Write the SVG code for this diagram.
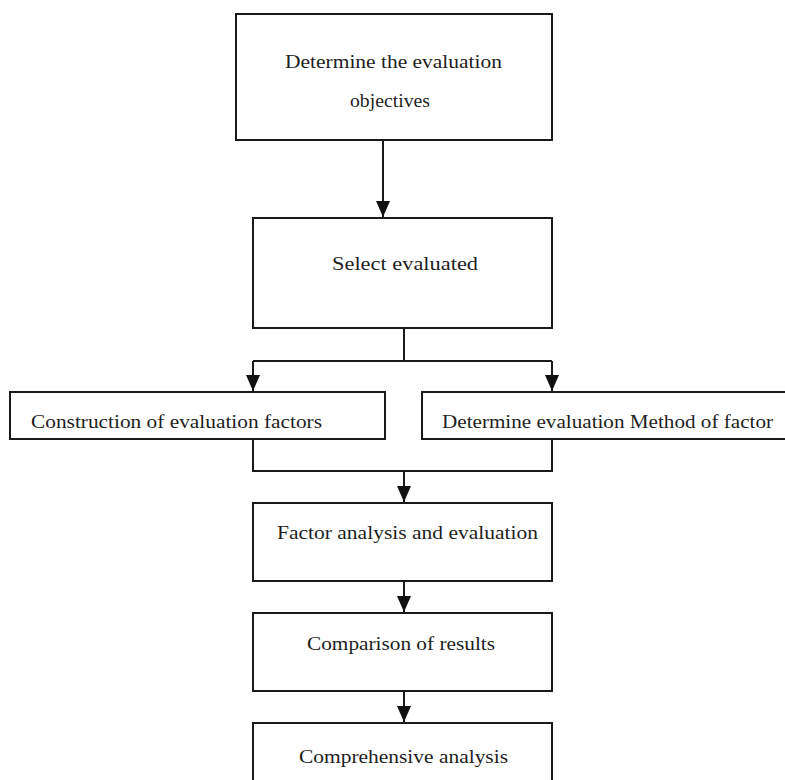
<svg xmlns="http://www.w3.org/2000/svg" width="785" height="780" viewBox="0 0 785 780">
<defs>
<style>
.box{fill:#fff;stroke:#1a1a1a;stroke-width:2}
.lbl{font-family:"Liberation Serif","Times New Roman",serif;font-size:18.5px;fill:#1e1e1e}
.con{fill:none;stroke:#1a1a1a;stroke-width:2}
</style>
<marker id="arr" markerUnits="userSpaceOnUse" markerWidth="16" markerHeight="14" viewBox="0 0 16 14" refX="16" refY="7" orient="auto">
<path d="M0,0 L16,7 L0,14 Z" fill="#111"/>
</marker>
</defs>
<rect width="785" height="780" fill="#fff"/>
<g id="connectors">
<path class="con" d="M383,140 V217" marker-end="url(#arr)"/>
<path class="con" d="M404,328 V361"/>
<path class="con" d="M253,361 H552"/>
<path class="con" d="M253,361 V391" marker-end="url(#arr)"/>
<path class="con" d="M552,361 V391" marker-end="url(#arr)"/>
<path class="con" d="M253,439 V471 H552 V439"/>
<path class="con" d="M404,471 V502" marker-end="url(#arr)"/>
<path class="con" d="M404,581 V612" marker-end="url(#arr)"/>
<path class="con" d="M404,691 V722" marker-end="url(#arr)"/>
</g>
<g id="n1">
<rect class="box" x="236" y="14" width="316" height="126"/>
<text class="lbl" x="285" y="68" textLength="217" lengthAdjust="spacingAndGlyphs">Determine the evaluation</text>
<text class="lbl" x="350" y="107" textLength="80" lengthAdjust="spacingAndGlyphs">objectives</text>
</g>
<g id="n2">
<rect class="box" x="253" y="218" width="299" height="110"/>
<text class="lbl" x="332" y="270" textLength="146" lengthAdjust="spacingAndGlyphs">Select evaluated</text>
</g>
<g id="n3">
<rect class="box" x="10" y="392" width="375" height="47"/>
<text class="lbl" x="31" y="428" textLength="291" lengthAdjust="spacingAndGlyphs">Construction of evaluation factors</text>
</g>
<g id="n4">
<rect class="box" x="422" y="392" width="370" height="47"/>
<text class="lbl" x="442" y="428" textLength="331" lengthAdjust="spacingAndGlyphs">Determine evaluation Method of factor</text>
</g>
<g id="n5">
<rect class="box" x="253" y="503" width="299" height="78"/>
<text class="lbl" x="277" y="539" textLength="261" lengthAdjust="spacingAndGlyphs">Factor analysis and evaluation</text>
</g>
<g id="n6">
<rect class="box" x="253" y="613" width="299" height="78"/>
<text class="lbl" x="307" y="650" textLength="188" lengthAdjust="spacingAndGlyphs">Comparison of results</text>
</g>
<g id="n7">
<rect class="box" x="253" y="723" width="299" height="70"/>
<text class="lbl" x="299" y="763" textLength="209" lengthAdjust="spacingAndGlyphs">Comprehensive analysis</text>
</g>
</svg>
